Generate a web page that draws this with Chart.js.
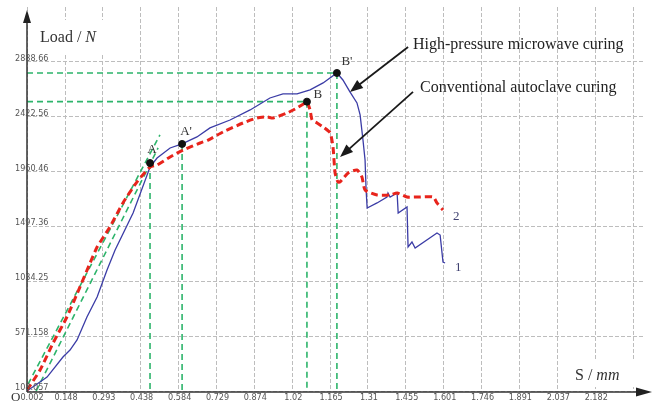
<!DOCTYPE html>
<html>
<head>
<meta charset="utf-8">
<script src="https://cdn.jsdelivr.net/npm/chart.js@4"></script>
<style>
html,body{margin:0;padding:0;background:#fff;}
#wrap{width:653px;height:405px;position:relative;}
</style>
</head>
<body>
<div id="wrap"><canvas id="c" width="653" height="405"></canvas></div>
<script>
// ---- data ----
const xTickValues = [0.002,0.148,0.293,0.438,0.584,0.729,0.874,1.02,1.165,1.31,1.455,1.601,1.746,1.891,2.037,2.182,2.328];
const xTickLabels = ['0.002','0.148','0.293','0.438','0.584','0.729','0.874','1.02','1.165','1.31','1.455','1.601','1.746','1.891','2.037','2.182',''];
const yTickValues = [108.057,571.158,1034.25,1497.36,1960.46,2422.56,2888.66];
const yTickLabels = ['108.057','571.158','1034.25','1497.36','1960.46','2422.56','2888.66'];

// curve 1: high-pressure microwave curing
const microwaveS = [0.002,0.079,0.140,0.167,0.194,0.232,0.271,0.309,0.340,0.409,0.474,0.501,0.551,0.597,0.654,0.704,0.781,0.858,0.934,0.984,1.038,1.088,1.138,1.191,1.214,1.241,1.268,1.280,1.291,1.299,1.303,1.307,1.345,1.383,1.387,1.395,1.422,1.426,1.460,1.464,1.479,1.491,1.575,1.587,1.598,1.606];
const microwaveLoad = [108,226,395,454,539,733,902,1130,1299,1611,1999,2075,2160,2194,2253,2329,2396,2481,2582,2616,2616,2650,2709,2793,2734,2633,2540,2439,2227,2059,1805,1653,1696,1746,1780,1746,1780,1611,1662,1324,1366,1316,1442,1425,1197,1189];

// curve 2: conventional autoclave curing
const autoclaveS = [0.002,0.052,0.102,0.155,0.205,0.244,0.271,0.320,0.370,0.424,0.474,0.501,0.551,0.601,0.666,0.697,0.754,0.831,0.885,0.923,0.946,1.000,1.038,1.069,1.076,1.088,1.096,1.115,1.138,1.165,1.176,1.184,1.195,1.203,1.234,1.268,1.287,1.299,1.345,1.395,1.422,1.460,1.498,1.560,1.575,1.598];
const autoclaveLoad = [116,285,513,733,986,1189,1324,1493,1696,1873,1999,2016,2084,2143,2202,2227,2295,2371,2413,2422,2413,2455,2498,2540,2551,2481,2396,2371,2337,2287,2168,1949,1873,1873,1949,1974,1915,1805,1763,1763,1780,1746,1746,1746,1696,1636];

// characteristic points
const markerNames = ['A', "A'", 'B', "B'"];
const markerS = [0.474, 0.597, 1.076, 1.191];
const markerLoad = [2033, 2194, 2551, 2793];

// tangent (elastic-stage) guide lines
const tangent1S = [0.006, 0.512];
const tangent1Load = [167, 2270];
const tangent2S = [0.037, 0.505];
const tangent2Load = [108, 2160];

// annotations (data coordinates)
const noteTexts = ['High-pressure microwave curing', 'Conventional autoclave curing'];
const noteS = [1.483, 1.510];
const noteLoad = [3030, 2666];
const arrowFromS = [1.464, 1.483];
const arrowFromLoad = [3013, 2633];
const arrowToS = [1.241, 1.203];
const arrowToLoad = [2633, 2084];
const curveTags = ['1', '2'];
const curveTagS = [1.644, 1.636];
const curveTagLoad = [1147, 1577];

const X_MIN = 0.002, X_MAX = 2.373, Y_MIN = 100, Y_MAX = 3350;

// ---- build datasets ----
const toPts = (xs, ys) => xs.map((x, i) => ({x, y: ys[i]}));
const GREEN = '#2db46b';
const greenStyle = {borderColor: GREEN, borderWidth: 1.6, borderDash: [6, 4], pointRadius: 0, showLine: true, fill: false, tension: 0};

const datasets = [];
datasets.push({label:'points', data: toPts(markerS, markerLoad), pointRadius: 3.5, pointBackgroundColor:'#111', pointBorderColor:'#111', showLine:false});
datasets.push({label:'autoclave', data: toPts(autoclaveS, autoclaveLoad), borderColor:'#e8241c', borderWidth:3, borderDash:[7,4], pointRadius:0, showLine:true, tension:0.2});
datasets.push({label:'microwave', data: toPts(microwaveS, microwaveLoad), borderColor:'#3b3ca6', borderWidth:1.3, pointRadius:0, showLine:true, tension:0});
// verticals from markers
markerS.forEach((s, i) => datasets.push(Object.assign({label:'v'+i, data:[{x:s,y:markerLoad[i]},{x:s,y:Y_MIN}]}, greenStyle)));
// horizontals to B and B'
[2,3].forEach(i => datasets.push(Object.assign({label:'h'+i, data:[{x:X_MIN,y:markerLoad[i]},{x:markerS[i],y:markerLoad[i]}]}, greenStyle)));
datasets.push(Object.assign({label:'t1', data: toPts(tangent1S, tangent1Load)}, greenStyle));
datasets.push(Object.assign({label:'t2', data: toPts(tangent2S, tangent2Load)}, greenStyle));

function arrow(ctx, x1, y1, x2, y2, len, half){
  const a = Math.atan2(y2 - y1, x2 - x1);
  ctx.beginPath(); ctx.moveTo(x1, y1);
  ctx.lineTo(x2 - Math.cos(a)*len*0.8, y2 - Math.sin(a)*len*0.8); ctx.stroke();
  ctx.beginPath();
  ctx.moveTo(x2, y2);
  ctx.lineTo(x2 - Math.cos(a)*len - Math.sin(a)*half, y2 - Math.sin(a)*len + Math.cos(a)*half);
  ctx.lineTo(x2 - Math.cos(a)*len + Math.sin(a)*half, y2 - Math.sin(a)*len - Math.cos(a)*half);
  ctx.closePath(); ctx.fill();
}

const overlay = {
  id: 'overlay',
  beforeDatasetsDraw(chart){
    const ctx = chart.ctx, a = chart.chartArea;
    ctx.save();
    ctx.fillStyle = '#fff';
    ctx.fillRect(a.left + 4, a.top + 13, 80, 34);
    ctx.fillRect(a.right - 85, a.bottom - 32, 76, 27);
    ctx.restore();
  },
  afterDraw(chart){
    const ctx = chart.ctx, a = chart.chartArea;
    const xs = chart.scales.x, ys = chart.scales.y;
    ctx.save();
    // axes
    ctx.strokeStyle = '#333'; ctx.fillStyle = '#222'; ctx.lineWidth = 1.5;
    arrow(ctx, a.left, a.bottom, a.left, a.top + 3, 13, 4);
    arrow(ctx, a.left, a.bottom, a.right + 7, a.bottom, 16, 4.5);
    // tick labels
    ctx.fillStyle = '#555';
    ctx.font = "9px 'Liberation Sans Narrow', 'DejaVu Sans Condensed', 'Liberation Sans', sans-serif";
    ctx.textAlign = 'center'; ctx.textBaseline = 'middle';
    xTickValues.forEach((v, i) => { if (xTickLabels[i]) ctx.fillText(xTickLabels[i], xs.getPixelForValue(v) + (i === 0 ? 5 : 1), a.bottom + 6); });
    ctx.textAlign = 'left'; ctx.textBaseline = 'alphabetic';
    yTickValues.forEach((v, i) => ctx.fillText(yTickLabels[i], 15, ys.getPixelForValue(v) - 1));
    // origin
    ctx.fillStyle = '#333';
    ctx.font = "13px 'Liberation Serif', serif";
    ctx.textBaseline = 'middle';
    ctx.fillText('O', 11, a.bottom + 6);
    // axis titles
    ctx.fillStyle = '#333';
    ctx.font = "16px 'Liberation Serif', serif";
    ctx.textBaseline = 'middle';
    let t = 'Load / ';
    ctx.fillText(t, a.left + 13, a.top + 31);
    let w = ctx.measureText(t).width;
    ctx.font = "italic 16px 'Liberation Serif', serif";
    ctx.fillText('N', a.left + 13 + w, a.top + 31);
    ctx.font = "16px 'Liberation Serif', serif";
    t = 'S / ';
    ctx.fillText(t, a.right - 70, a.bottom - 16);
    w = ctx.measureText(t).width;
    ctx.font = "italic 16px 'Liberation Serif', serif";
    ctx.fillText('mm', a.right - 70 + w, a.bottom - 16);
    // marker labels
    ctx.fillStyle = '#333';
    ctx.font = "13px 'Liberation Serif', serif";
    ctx.textAlign = 'center';
    const offs = [[2,-13],[4,-12],[11,-7],[10,-11]];
    markerNames.forEach((n, i) => ctx.fillText(n, xs.getPixelForValue(markerS[i]) + offs[i][0], ys.getPixelForValue(markerLoad[i]) + offs[i][1]));
    // curve tags
    ctx.fillStyle = '#3f4070';
    ctx.textAlign = 'left';
    curveTags.forEach((n, i) => ctx.fillText(n, xs.getPixelForValue(curveTagS[i]), ys.getPixelForValue(curveTagLoad[i])));
    // arrows + notes
    ctx.strokeStyle = '#1a1a1a'; ctx.fillStyle = '#1a1a1a'; ctx.lineWidth = 1.8;
    arrowFromS.forEach((s, i) => arrow(ctx, xs.getPixelForValue(s), ys.getPixelForValue(arrowFromLoad[i]), xs.getPixelForValue(arrowToS[i]), ys.getPixelForValue(arrowToLoad[i]), 13, 5));
    ctx.fillStyle = '#222';
    ctx.font = "16px 'Liberation Serif', serif";
    ctx.textAlign = 'left'; ctx.textBaseline = 'middle';
    noteTexts.forEach((n, i) => ctx.fillText(n, xs.getPixelForValue(noteS[i]), ys.getPixelForValue(noteLoad[i])));
    ctx.restore();
  }
};

new Chart(document.getElementById('c'), {
  type: 'scatter',
  data: { datasets },
  options: {
    responsive: false,
    animation: false,
    devicePixelRatio: 1,
    layout: { padding: { left: 27, top: 7, right: 8, bottom: 13 } },
    plugins: { legend: { display: false }, tooltip: { enabled: false } },
    scales: {
      x: {
        type: 'linear', min: X_MIN, max: X_MAX,
        afterBuildTicks: s => { s.ticks = xTickValues.map(v => ({value: v})); },
        ticks: { display: false },
        grid: { color: '#bdbdbd', lineWidth: 1, drawTicks: false },
        border: { display: false, dash: [4, 2] }
      },
      y: {
        type: 'linear', min: Y_MIN, max: Y_MAX,
        afterBuildTicks: s => { s.ticks = yTickValues.map(v => ({value: v})); },
        ticks: { display: false },
        grid: { color: '#bdbdbd', lineWidth: 1, drawTicks: false },
        border: { display: false, dash: [4, 2] }
      }
    }
  },
  plugins: [overlay]
});
</script>
</body>
</html>
